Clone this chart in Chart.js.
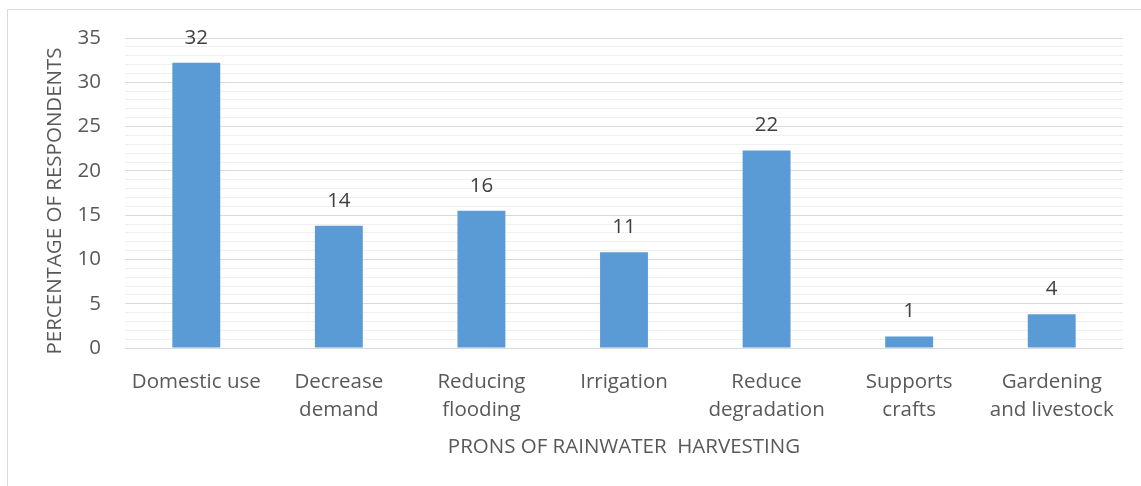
<!DOCTYPE html>
<html>
<head>
<meta charset="utf-8">
<script src="https://cdn.jsdelivr.net/npm/chart.js@4.4.1/dist/chart.umd.min.js"></script>
<style>
  html, body { margin: 0; padding: 0; background: #ffffff; }
  #wrap { position: relative; width: 1141px; height: 486px; }
</style>
</head>
<body>
<div id="wrap"><canvas id="chart" width="1141" height="486"></canvas></div>
<script>
// Categories (multi-line labels) and the share of respondents for each
const categories = [
  ["Domestic use"],
  ["Decrease", "demand"],
  ["Reducing", "flooding"],
  ["Irrigation"],
  ["Reduce", "degradation"],
  ["Supports", "crafts"],
  ["Gardening", "and livestock"]
];
const percentages = [32.2, 13.8, 15.5, 10.8, 22.3, 1.3, 3.8];

// Value axis: labelled every 5, with a light minor line at every unit
const yMin = 0;
const yMax = 35;
const yMinorStep = 1;
const yLabelStep = 5;

const xTitle = "PRONS OF RAINWATER  HARVESTING";
// trailing spaces nudge the rotated title slightly toward the baseline
const yTitle = "PERCENTAGE OF RESPONDENTS   ";

const FONT = "'Open Sans', 'Liberation Sans', sans-serif";
const TEXT = "#595959";

// Light frame around the chart
const framePlugin = {
  id: "frame",
  beforeDraw(chart) {
    const ctx = chart.ctx;
    ctx.save();
    ctx.fillStyle = "#ffffff";
    ctx.fillRect(0, 0, chart.width, chart.height);
    ctx.strokeStyle = "#d9d9d9";
    ctx.lineWidth = 1;
    ctx.beginPath();
    ctx.moveTo(7.5, chart.height);
    ctx.lineTo(7.5, 9.5);
    ctx.lineTo(chart.width, 9.5);
    ctx.stroke();
    ctx.restore();
  }
};

// Rounded value printed above each bar
const valueLabels = {
  id: "valueLabels",
  afterDatasetsDraw(chart) {
    const ctx = chart.ctx;
    const meta = chart.getDatasetMeta(0);
    const values = chart.data.datasets[0].data;
    ctx.save();
    ctx.font = "20.5px " + FONT;
    ctx.fillStyle = "#404040";
    ctx.textAlign = "center";
    ctx.textBaseline = "middle";
    meta.data.forEach((bar, i) => {
      ctx.fillText(String(Math.round(values[i])), bar.x, bar.y - 25);
    });
    ctx.restore();
  }
};

new Chart(document.getElementById("chart"), {
  type: "bar",
  data: {
    labels: categories,
    datasets: [{
      data: percentages,
      backgroundColor: "#5b9bd5",
      borderWidth: 0,
      categoryPercentage: 1,
      barPercentage: 0.336
    }]
  },
  options: {
    responsive: false,
    animation: false,
    devicePixelRatio: 1,
    layout: { padding: { top: 38, right: 18, bottom: 0, left: 0 } },
    plugins: {
      legend: { display: false },
      tooltip: { enabled: false }
    },
    scales: {
      x: {
        grid: { display: false },
        border: { display: false },
        ticks: {
          color: TEXT,
          font: { family: FONT, size: 20.5, lineHeight: 1.366 },
          padding: 12,
          maxRotation: 0,
          autoSkip: false
        },
        title: {
          display: true,
          text: xTitle,
          color: TEXT,
          font: { family: FONT, size: 20.5 },
          padding: { top: 0, bottom: 27 }
        },
        afterFit(scale) { scale.height = 138; }
      },
      y: {
        min: yMin,
        max: yMax,
        border: { display: false },
        grid: {
          drawTicks: false,
          lineWidth: 1,
          color: (c) => (c.tick && c.tick.value % yLabelStep === 0) ? "#d9d9d9" : "#f0f0f0"
        },
        ticks: {
          stepSize: yMinorStep,
          maxTicksLimit: 100,
          autoSkip: false,
          padding: 24,
          color: TEXT,
          font: { family: FONT, size: 20.5 },
          callback: (v) => (v % yLabelStep === 0 ? String(v) : "")
        },
        title: {
          display: true,
          text: yTitle,
          color: TEXT,
          font: { family: FONT, size: 20.5 },
          padding: { top: 43, bottom: 0 }
        },
        afterFit(scale) { scale.width = 125; }
      }
    }
  },
  plugins: [framePlugin, valueLabels]
});
</script>
</body>
</html>
